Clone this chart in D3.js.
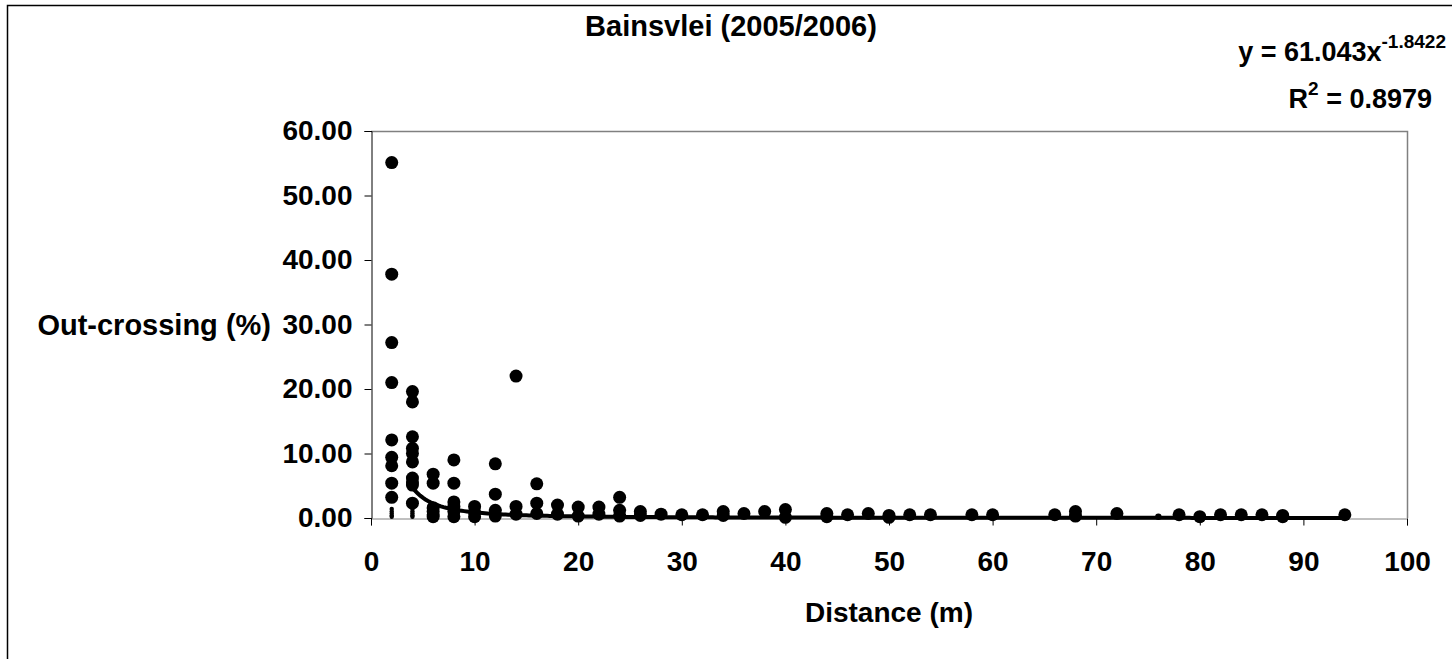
<!DOCTYPE html>
<html>
<head>
<meta charset="utf-8">
<script src="https://cdn.jsdelivr.net/npm/d3@7"></script>
<style>
  body { margin: 0; background: #fff; }
  svg text { font-family: "Liberation Sans", Arial, sans-serif; font-weight: bold; fill: #000; }
</style>
</head>
<body>
<svg id="chart" width="1452" height="659"></svg>
<script>
// Distance (m) and out-crossing (%), big markers
var distances = [
  2, 2, 2, 2, 2, 2, 2, 2, 2,
  4, 4, 4, 4, 4, 4, 4, 4, 4, 4,
  6, 6, 6, 6, 6, 6,
  8, 8, 8, 8, 8, 8,
  10, 10, 10,
  12, 12, 12, 12,
  14, 14, 14,
  16, 16, 16,
  18, 18,
  20, 20,
  22, 22,
  24, 24, 24,
  26, 26,
  28, 30, 32,
  34, 34,
  36, 38,
  40, 40,
  44, 44,
  46, 48,
  50, 50,
  52, 54, 58, 60, 66,
  68, 68,
  72, 78, 80, 82, 84, 86,
  88, 88,
  94
];
var outcrossing = [
  55.1, 37.8, 27.2, 21.0, 12.1, 9.4, 8.1, 5.4, 3.2,
  19.6, 18.0, 12.6, 10.8, 10.0, 8.7, 6.2, 5.6, 5.1, 2.3,
  6.8, 5.4, 1.6, 1.0, 0.5, 0.2,
  9.0, 5.4, 2.5, 1.8, 1.0, 0.2,
  1.8, 0.9, 0.2,
  8.4, 3.7, 1.2, 0.3,
  22.0, 1.8, 0.6,
  5.3, 2.3, 0.7,
  2.0, 0.6,
  1.7, 0.3,
  1.7, 0.6,
  3.2, 1.2, 0.3,
  1.0, 0.4,
  0.6, 0.5, 0.5,
  1.0, 0.4,
  0.7, 1.0,
  1.3, 0.1,
  0.7, 0.2,
  0.5, 0.7,
  0.4, 0.1,
  0.5, 0.5, 0.5, 0.5, 0.5,
  1.0, 0.3,
  0.7, 0.5, 0.2, 0.5, 0.5, 0.5,
  0.4, 0.2,
  0.5
];

// small markers near the axis
var smallDistances = [2, 2, 2, 2, 2, 4, 4, 4, 4, 4, 76];
var smallOutcrossing = [1.4, 1.0, 0.7, 0.4, 0.2, 1.4, 1.0, 0.7, 0.4, 0.2, 0.2];

var xTicks = [0, 10, 20, 30, 40, 50, 60, 70, 80, 90, 100];
var yTicks = [0, 10, 20, 30, 40, 50, 60];

// power trendline y = a * x^b
var fitA = 61.043;
var fitB = -1.8422;
var fitR2 = 0.8979;
var fitRange = [4, 94];

(function() {
  var svg = d3.select("#chart");

  // outer chart frame (runs off the right and bottom edges)
  svg.append("rect")
    .attr("x", 7.5).attr("y", 5.5)
    .attr("width", 1470).attr("height", 680)
    .attr("fill", "none")
    .attr("stroke", "#000")
    .attr("stroke-width", 1.5);

  var plotLeft = 371, plotRight = 1407, plotTop = 131, plotBottom = 518;

  var x = d3.scaleLinear().domain([0, 100]).range([plotLeft, plotRight]);
  var y = d3.scaleLinear().domain([0, 60]).range([plotBottom, plotTop]);

  // plot area border, top and right in grey
  svg.append("path")
    .attr("d", "M" + plotLeft + "," + (plotTop + 0.5) + "H" + (plotRight + 0.5) + "V" + plotBottom)
    .attr("fill", "none")
    .attr("stroke", "#808080")
    .attr("stroke-width", 1.5);

  var xAxis = svg.append("g")
    .attr("transform", "translate(0," + (plotBottom + 0.5) + ")")
    .call(d3.axisBottom(x).tickValues(xTicks).tickSize(7).tickPadding(26).tickFormat(d3.format("d")));

  var yAxis = svg.append("g")
    .attr("transform", "translate(" + (plotLeft + 0.5) + ",0)")
    .call(d3.axisLeft(y).tickValues(yTicks).tickSize(7).tickPadding(12).tickFormat(d3.format(".2f")));

  [xAxis, yAxis].forEach(function(g) {
    g.select(".domain").attr("stroke", "#000").attr("stroke-width", 1);
    g.selectAll(".tick line").attr("stroke", "#000");
    g.selectAll(".tick text")
      .style("font-size", "28px")
      .style("font-family", "'Liberation Sans', Arial, sans-serif")
      .style("font-weight", "bold");
  });
  xAxis.select(".domain").attr("stroke", "#808080");

  // trendline
  var fitPts = d3.range(fitRange[0], fitRange[1] + 0.01, 0.25).map(function(d) {
    return [d, fitA * Math.pow(d, fitB)];
  });
  svg.append("path")
    .datum(fitPts)
    .attr("fill", "none")
    .attr("stroke", "#000")
    .attr("stroke-width", 4)
    .attr("d", d3.line().x(function(d) { return x(d[0]); }).y(function(d) { return y(d[1]); }));

  // markers
  svg.append("g").selectAll("circle")
    .data(distances)
    .enter().append("circle")
    .attr("cx", function(d) { return x(d); })
    .attr("cy", function(d, i) { return y(outcrossing[i]); })
    .attr("r", 6.5)
    .attr("fill", "#000");

  svg.append("g").selectAll("circle")
    .data(smallDistances)
    .enter().append("circle")
    .attr("cx", function(d) { return x(d); })
    .attr("cy", function(d, i) { return y(smallOutcrossing[i]); })
    .attr("r", function(d) { return d > 50 ? 3.2 : 2.2; })
    .attr("fill", "#000");

  // titles
  svg.append("text")
    .attr("x", 731).attr("y", 36)
    .attr("text-anchor", "middle")
    .style("font-size", "29px")
    .text("Bainsvlei (2005/2006)");

  svg.append("text")
    .attr("x", 271).attr("y", 335)
    .attr("text-anchor", "end")
    .style("font-size", "29px")
    .text("Out-crossing (%)");

  svg.append("text")
    .attr("x", 889).attr("y", 622)
    .attr("text-anchor", "middle")
    .style("font-size", "28px")
    .text("Distance (m)");

  // trendline equation
  var eq = svg.append("text")
    .attr("x", 1446).attr("y", 61)
    .attr("text-anchor", "end")
    .style("font-size", "27px");
  eq.append("tspan").text("y = " + fitA.toFixed(3) + "x");
  eq.append("tspan").attr("dy", -13).style("font-size", "19px").text(fitB.toFixed(4));

  var r2 = svg.append("text")
    .attr("x", 1432).attr("y", 108)
    .attr("text-anchor", "end")
    .style("font-size", "27px");
  r2.append("tspan").text("R");
  r2.append("tspan").attr("dy", -13).style("font-size", "19px").text("2");
  r2.append("tspan").attr("dy", 13).text(" = " + fitR2.toFixed(4));
})();
</script>
</body>
</html>
